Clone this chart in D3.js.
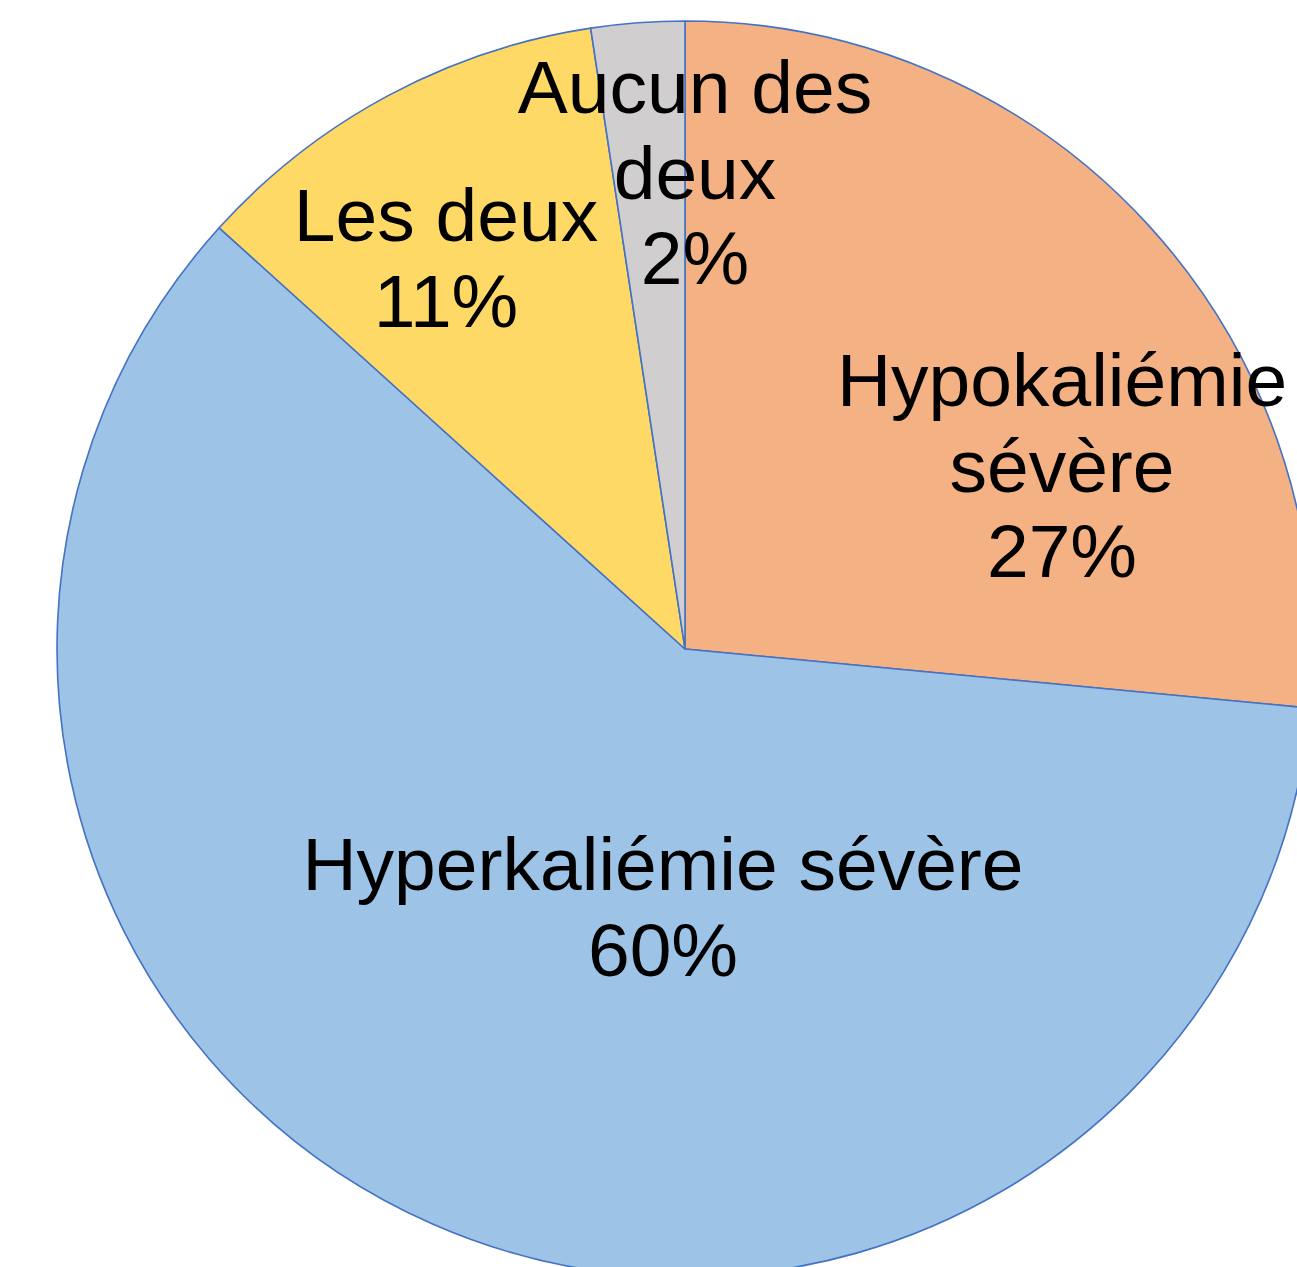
<!DOCTYPE html>
<html>
<head>
<meta charset="utf-8">
<script src="https://cdn.jsdelivr.net/npm/d3@7"></script>
<style>
  body { margin: 0; background: #fff; }
  svg { display: block; }
  .label { font-family: "Liberation Sans", Arial, sans-serif; font-size: 75px; fill: #000; }
</style>
</head>
<body>
<div id="chart"></div>
<script>
// data (clockwise from 12 o'clock)
const categories = ["Hypokaliémie sévère", "Hyperkaliémie sévère", "Les deux", "Aucun des deux"];
const shares = [26.5, 60.2, 10.9, 2.4];
const shownPct = ["27%", "60%", "11%", "2%"];
const labelLines = [["Hypokaliémie", "sévère"], ["Hyperkaliémie sévère"], ["Les deux"], ["Aucun des", "deux"]];
const colors = ["#F4B183", "#9DC3E6", "#FFD966", "#D0CECE"];

// where Excel put each label (first baseline, relative to centre)
const labelAt = [[377, -243], [-22, 241], [-239, -408], [10, -536]];

const width = 1297, height = 1267;
const cx = 685, cy = 649, radius = 628;
const lineGap = 85.5;

const slices = categories.map((c, i) => ({ name: c, value: shares[i], i: i }));

const svg = d3.select('#chart')
  .append('svg')
    .attr('width', width)
    .attr('height', height)
    .attr('viewBox', [0, 0, width, height]);

const g = svg.append('g').attr('transform', `translate(${cx},${cy})`);

const pie = d3.pie().value(d => d.value).sort(null);
const arc = d3.arc().innerRadius(0).outerRadius(radius);

g.selectAll('path')
  .data(pie(slices))
  .join('path')
    .attr('d', arc)
    .attr('fill', d => colors[d.data.i])
    .attr('stroke', '#4472C4')
    .attr('stroke-width', 1.6)
    .attr('stroke-linejoin', 'round');

// labels
const labels = g.selectAll('.label')
  .data(slices)
  .join('text')
    .attr('class', 'label')
    .attr('text-anchor', 'middle')
    .attr('x', d => labelAt[d.i][0])
    .attr('y', d => labelAt[d.i][1]);

labels.selectAll('tspan')
  .data(d => labelLines[d.i].concat([shownPct[d.i]]).map(t => ({ t: t, x: labelAt[d.i][0] })))
  .join('tspan')
    .attr('x', d => d.x)
    .attr('dy', (d, j) => j === 0 ? 0 : lineGap)
    .text(d => d.t);
</script>
</body>
</html>
